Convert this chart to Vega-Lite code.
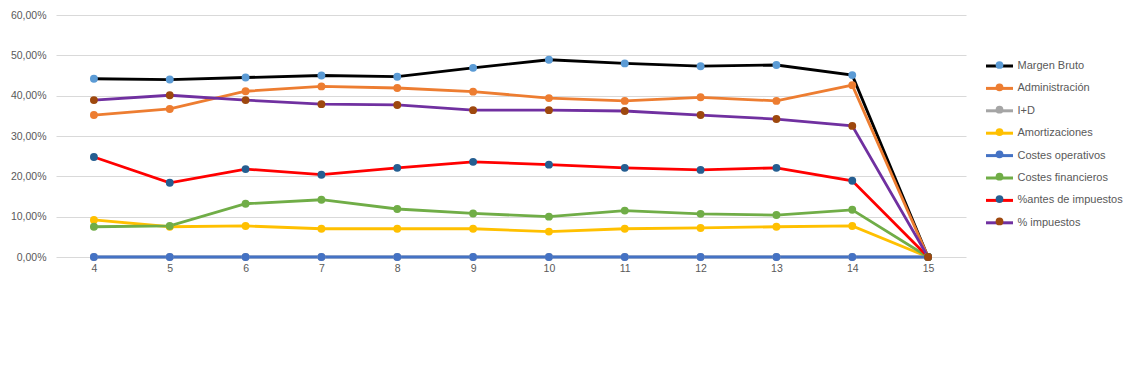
{
  "$schema": "https://vega.github.io/schema/vega-lite/v6.json",
  "autosize": {"type": "none"},
  "width": 910,
  "height": 242,
  "padding": {"left": 56, "top": 15, "right": 167, "bottom": 127},
  "background": "white",
  "config": {
    "view": {"stroke": null},
    "font": "Liberation Sans"
  },
  "data": {
    "values": [
      {"p":4,"s":"Margen Bruto","v":0.442},{"p":5,"s":"Margen Bruto","v":0.440},{"p":6,"s":"Margen Bruto","v":0.445},{"p":7,"s":"Margen Bruto","v":0.450},{"p":8,"s":"Margen Bruto","v":0.447},{"p":9,"s":"Margen Bruto","v":0.469},{"p":10,"s":"Margen Bruto","v":0.489},{"p":11,"s":"Margen Bruto","v":0.480},{"p":12,"s":"Margen Bruto","v":0.473},{"p":13,"s":"Margen Bruto","v":0.476},{"p":14,"s":"Margen Bruto","v":0.451},{"p":15,"s":"Margen Bruto","v":0},
      {"p":4,"s":"Administración","v":0.352},{"p":5,"s":"Administración","v":0.367},{"p":6,"s":"Administración","v":0.411},{"p":7,"s":"Administración","v":0.423},{"p":8,"s":"Administración","v":0.419},{"p":9,"s":"Administración","v":0.410},{"p":10,"s":"Administración","v":0.394},{"p":11,"s":"Administración","v":0.387},{"p":12,"s":"Administración","v":0.396},{"p":13,"s":"Administración","v":0.387},{"p":14,"s":"Administración","v":0.426},{"p":15,"s":"Administración","v":0},
      {"p":4,"s":"I+D","v":0},{"p":5,"s":"I+D","v":0},{"p":6,"s":"I+D","v":0},{"p":7,"s":"I+D","v":0},{"p":8,"s":"I+D","v":0},{"p":9,"s":"I+D","v":0},{"p":10,"s":"I+D","v":0},{"p":11,"s":"I+D","v":0},{"p":12,"s":"I+D","v":0},{"p":13,"s":"I+D","v":0},{"p":14,"s":"I+D","v":0},{"p":15,"s":"I+D","v":0},
      {"p":4,"s":"Amortizaciones","v":0.092},{"p":5,"s":"Amortizaciones","v":0.075},{"p":6,"s":"Amortizaciones","v":0.077},{"p":7,"s":"Amortizaciones","v":0.070},{"p":8,"s":"Amortizaciones","v":0.070},{"p":9,"s":"Amortizaciones","v":0.070},{"p":10,"s":"Amortizaciones","v":0.063},{"p":11,"s":"Amortizaciones","v":0.070},{"p":12,"s":"Amortizaciones","v":0.072},{"p":13,"s":"Amortizaciones","v":0.075},{"p":14,"s":"Amortizaciones","v":0.077},{"p":15,"s":"Amortizaciones","v":0},
      {"p":4,"s":"Costes operativos","v":0},{"p":5,"s":"Costes operativos","v":0},{"p":6,"s":"Costes operativos","v":0},{"p":7,"s":"Costes operativos","v":0},{"p":8,"s":"Costes operativos","v":0},{"p":9,"s":"Costes operativos","v":0},{"p":10,"s":"Costes operativos","v":0},{"p":11,"s":"Costes operativos","v":0},{"p":12,"s":"Costes operativos","v":0},{"p":13,"s":"Costes operativos","v":0},{"p":14,"s":"Costes operativos","v":0},{"p":15,"s":"Costes operativos","v":0},
      {"p":4,"s":"Costes financieros","v":0.075},{"p":5,"s":"Costes financieros","v":0.077},{"p":6,"s":"Costes financieros","v":0.132},{"p":7,"s":"Costes financieros","v":0.142},{"p":8,"s":"Costes financieros","v":0.119},{"p":9,"s":"Costes financieros","v":0.108},{"p":10,"s":"Costes financieros","v":0.100},{"p":11,"s":"Costes financieros","v":0.115},{"p":12,"s":"Costes financieros","v":0.107},{"p":13,"s":"Costes financieros","v":0.104},{"p":14,"s":"Costes financieros","v":0.117},{"p":15,"s":"Costes financieros","v":0},
      {"p":4,"s":"%antes de impuestos","v":0.248},{"p":5,"s":"%antes de impuestos","v":0.184},{"p":6,"s":"%antes de impuestos","v":0.218},{"p":7,"s":"%antes de impuestos","v":0.204},{"p":8,"s":"%antes de impuestos","v":0.221},{"p":9,"s":"%antes de impuestos","v":0.236},{"p":10,"s":"%antes de impuestos","v":0.229},{"p":11,"s":"%antes de impuestos","v":0.221},{"p":12,"s":"%antes de impuestos","v":0.216},{"p":13,"s":"%antes de impuestos","v":0.221},{"p":14,"s":"%antes de impuestos","v":0.189},{"p":15,"s":"%antes de impuestos","v":0},
      {"p":4,"s":"% impuestos","v":0.389},{"p":5,"s":"% impuestos","v":0.401},{"p":6,"s":"% impuestos","v":0.389},{"p":7,"s":"% impuestos","v":0.379},{"p":8,"s":"% impuestos","v":0.377},{"p":9,"s":"% impuestos","v":0.364},{"p":10,"s":"% impuestos","v":0.364},{"p":11,"s":"% impuestos","v":0.362},{"p":12,"s":"% impuestos","v":0.352},{"p":13,"s":"% impuestos","v":0.342},{"p":14,"s":"% impuestos","v":0.325},{"p":15,"s":"% impuestos","v":0}
    ]
  },
  "encoding": {
    "x": {
      "field": "p", "type": "ordinal",
      "scale": {"type": "point", "padding": 0.5},
      "axis": {"title": null, "domain": false, "ticks": false, "labelAngle": 0, "labelPadding": 6, "labelFontSize": 10.5, "labelColor": "#595959", "grid": false}
    },
    "y": {
      "field": "v", "type": "quantitative",
      "scale": {"domain": [0, 0.6], "nice": false},
      "axis": {"title": null, "domain": false, "ticks": false, "values": [0, 0.1, 0.2, 0.3, 0.4, 0.5, 0.6], "labelExpr": "replace(format(datum.value, '.2%'), '.', ',')", "labelPadding": 10, "labelFontSize": 10.5, "labelColor": "#595959", "gridColor": "#D9D9D9", "gridWidth": 1}
    }
  },
  "layer": [
    {
      "mark": {"type": "line", "strokeWidth": 2.8},
      "encoding": {
        "stroke": {
          "field": "s", "type": "nominal",
          "scale": {
            "domain": ["Margen Bruto", "Administración", "I+D", "Amortizaciones", "Costes operativos", "Costes financieros", "%antes de impuestos", "% impuestos"],
            "range": ["#000000", "#ED7D31", "#A5A5A5", "#FFC000", "#4472C4", "#70AD47", "#FF0000", "#7030A0"]
          },
          "legend": {"title": null, "orient": "none", "legendX": 928.5, "legendY": 36, "symbolType": "stroke", "symbolSize": 729, "symbolStrokeWidth": 3, "labelFontSize": 11, "labelColor": "#595959", "labelOffset": 3, "rowPadding": 1.4}
        }
      }
    },
    {
      "mark": {"type": "circle", "size": 62, "opacity": 1},
      "encoding": {
        "fill": {
          "field": "s", "type": "nominal",
          "scale": {
            "domain": ["Margen Bruto", "Administración", "I+D", "Amortizaciones", "Costes operativos", "Costes financieros", "%antes de impuestos", "% impuestos", "zz"],
            "range": ["#5B9BD5", "#ED7D31", "#A5A5A5", "#FFC000", "#4472C4", "#70AD47", "#255E91", "#9E480E", "#FFFFFF"]
          },
          "legend": {"title": null, "orient": "none", "legendX": 938, "legendY": 44.5, "values": ["Margen Bruto", "Administración", "I+D", "Amortizaciones", "Costes operativos", "Costes financieros", "%antes de impuestos", "% impuestos"], "symbolType": "circle", "symbolSize": 60, "symbolStrokeWidth": 0, "labelFontSize": 11, "labelExpr": "''", "labelOffset": 3, "rowPadding": 10.34}
        }
      }
    }
  ]
}
